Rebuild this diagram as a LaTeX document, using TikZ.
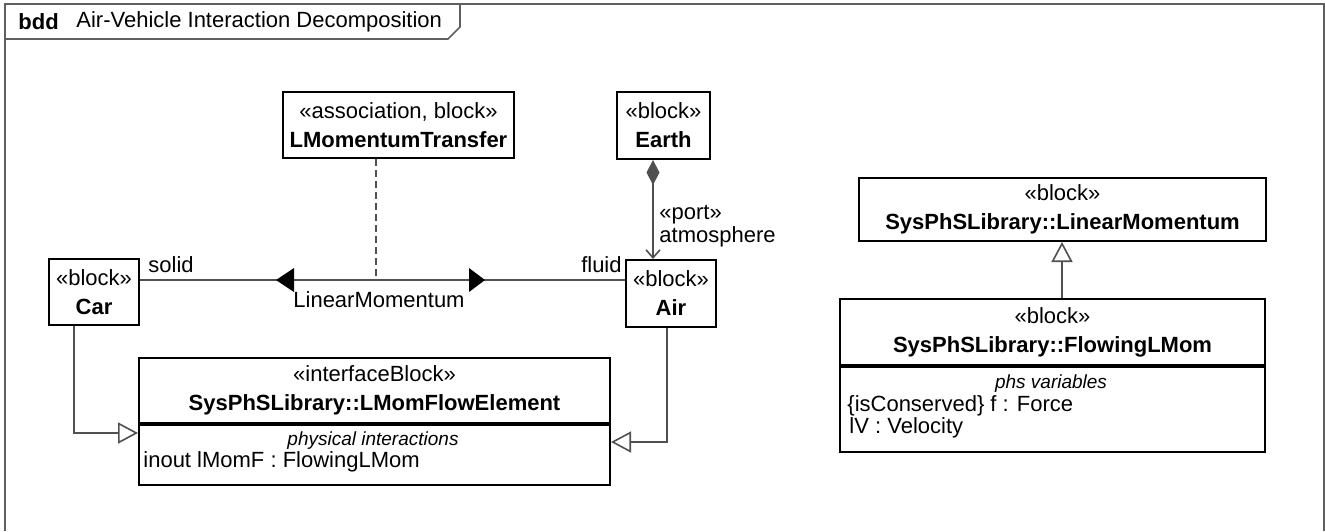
\documentclass[tikz,border=0pt]{standalone}
\usepackage{fontspec}
\setmainfont{Liberation Sans}
\usepackage{xcolor}
\usepackage{tikz}
\usetikzlibrary{positioning,calc,arrows.meta}

\definecolor{linegray}{HTML}{505050}
\definecolor{framegray}{HTML}{5F5F5F}

\tikzset{
  blockbox/.style={draw, line width=1pt, anchor=north west, inner sep=0pt,
    align=center, font=\fontsize{11}{14.5}\selectfont},
  compbox/.style={draw, line width=1pt, anchor=north west, inner sep=0pt},
  conn/.style={draw=linegray, line width=0.8pt},
  gen/.style={-{Triangle[open, length=10pt, width=10.5pt, fill=white]}},
  lbl/.style={inner sep=0pt, font=\fontsize{11}{13}\selectfont},
  sectitle/.style={inner sep=0pt, font=\fontsize{9.5}{11}\selectfont\itshape}
}

\begin{document}
\begin{tikzpicture}[x=0.5pt, y=-0.5pt]
  \useasboundingbox (0,0) rectangle (1325,531);

  % diagram frame and name tab
  \draw[framegray, line width=1pt] (5,531) -- (5,4) -- (1324,4) -- (1324,531);
  \draw[framegray, line width=0.8pt] (5,39) -- (448,39) -- (460,27) -- (460,4);
  \node[lbl, anchor=west] (kind) at (18,22) {\textbf{bdd}};
  \node[lbl, anchor=west] (title) at (76,22) {Air-Vehicle Interaction Decomposition};

  % blocks
  \node[blockbox, minimum width=115.5pt, minimum height=33pt] (lmt) at (282,91)
    {«association, block»\\\textbf{LMomentumTransfer}};
  \node[blockbox, minimum width=46.5pt, minimum height=33.5pt] (earth) at (616,91)
    {«block»\\\textbf{Earth}};
  \node[blockbox, minimum width=45pt, minimum height=33pt] (car) at (48,258)
    {«block»\\\textbf{Car}};
  \node[blockbox, minimum width=45pt, minimum height=33.5pt] (air) at (625,259)
    {«block»\\\textbf{Air}};

  % interface block with its compartment
  \node[blockbox, minimum width=235.5pt, minimum height=32.5pt] (lmfeHead) at (138,357)
    {«interfaceBlock»\\\textbf{SysPhSLibrary::LMomFlowElement}};
  \node[compbox, minimum width=235.5pt, minimum height=30pt] (lmfeBody) at (lmfeHead.south west) {};
  \node[sectitle] (lmfeSec) at (373,441) {physical interactions};
  \node[lbl, anchor=west] (lmfeAttr) at (143,462) {inout lMomF : FlowingLMom};

  % library blocks on the right
  \node[blockbox, minimum width=203.5pt, minimum height=31.5pt] (lm) at (858,177)
    {«block»\\\textbf{SysPhSLibrary::LinearMomentum}};
  \node[blockbox, minimum width=212.5pt, minimum height=33pt] (flmHead) at (839,298)
    {«block»\\\textbf{SysPhSLibrary::FlowingLMom}};
  \node[compbox, minimum width=212.5pt, minimum height=42.5pt] (flmBody) at (flmHead.south west) {};
  \node[sectitle] (flmSec) at (1051,384) {phs variables};
  \node[lbl, anchor=west] (flmVar1) at (847,406) {\{isConserved\} f : Force};
  \node[lbl, anchor=west] (flmVar2) at (849,428) {lV : Velocity};

  % association Car -- Air with association class
  \coordinate (amid) at (376,280);
  \draw[conn] (car.east |- amid) -- (air.west |- amid);
  \draw[conn, dash pattern=on 3.5pt off 2pt] (lmt.south -| amid) -- (amid);
  \fill ($(car.east |- amid)+(136,0)$) -- ++(18,-12) -- ++(0,24) -- cycle;
  \fill ($(air.west |- amid)+(-140,0)$) -- ++(-16,-12) -- ++(0,24) -- cycle;
  \node[lbl, anchor=west] (solid) at (148,265) {solid};
  \node[lbl, anchor=east] (fluid) at (622,265) {fluid};
  \node[lbl] (assocName) at (379,300) {LinearMomentum};

  % part property Earth -> Air
  \coordinate (pline) at (653,200);
  \draw[conn, {Diamond[length=12.5pt, width=6.5pt, fill=linegray]}-{Straight Barb[length=4pt, width=7pt]}]
    (earth.south -| pline) -- (air.north -| pline);
  \node[lbl, anchor=west] (portSt) at (659,215) {«port»};
  \node[lbl, anchor=west] (portName) at (659,237) {atmosphere};

  % generalizations
  \coordinate (cbend) at (74,433);
  \coordinate (abend) at (667,442);
  \coordinate (gx) at (1062,270);
  \draw[conn, gen] (car.south -| cbend) |- (lmfeBody.west |- cbend);
  \draw[conn, gen] (air.south -| abend) |- (lmfeBody.east |- abend);
  \draw[conn, gen] (flmHead.north -| gx) -- (lm.south -| gx);
\end{tikzpicture}
\end{document}
